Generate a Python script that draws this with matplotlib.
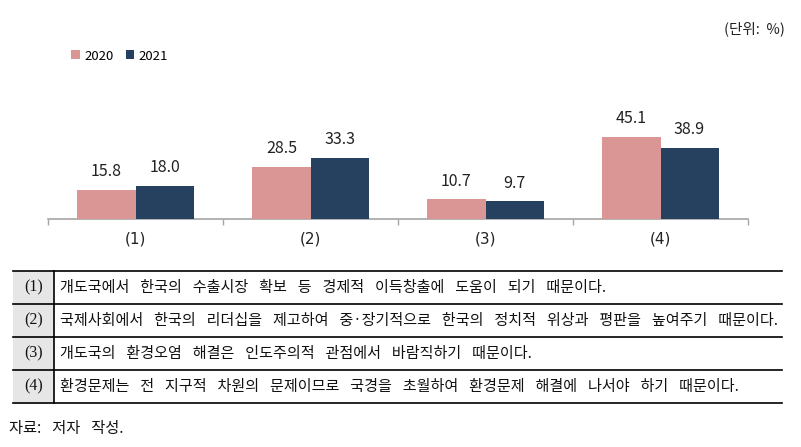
import matplotlib
matplotlib.use("Agg")
import matplotlib.pyplot as plt
import numpy as np

plt.rcParams['font.family'] = ['Noto Sans CJK KR', 'DejaVu Sans']

categories = ['(1)', '(2)', '(3)', '(4)']
series_names = ['2020', '2021']
values_2020 = [15.8, 28.5, 10.7, 45.1]
values_2021 = [18.0, 33.3, 9.7, 38.9]
unit_label = '(단위:  %)'
row_labels = ['(1)', '(2)', '(3)', '(4)']
row_texts = [
    '개도국에서 한국의 수출시장 확보 등 경제적 이득창출에 도움이 되기 때문이다.',
    '국제사회에서 한국의 리더십을 제고하여 중·장기적으로 한국의 정치적 위상과 평판을 높여주기 때문이다.',
    '개도국의 환경오염 해결은 인도주의적 관점에서 바람직하기 때문이다.',
    '환경문제는 전 지구적 차원의 문제이므로 국경을 초월하여 환경문제 해결에 나서야 하기 때문이다.',
]
source_text = '자료: 저자 작성.'


def wide(s):
    # wider word spacing, as in the typeset original
    return s.replace(' ', ' \u2002')


W, H = 801, 447
fig = plt.figure(figsize=(W / 100, H / 100), dpi=100)

c2020 = '#D99694'
c2021 = '#264060'

# chart axes
ax = fig.add_axes([48 / W, 1 - 219 / H, 700 / W, 179 / H])
x = np.arange(len(categories))
bw = 0.332
b1 = ax.bar(x - bw / 2, values_2020, bw, color=c2020, label=series_names[0], zorder=3)
b2 = ax.bar(x + bw / 2, values_2021, bw, color=c2021, label=series_names[1], zorder=3)
for bars, vals in ((b1, values_2020), (b2, values_2021)):
    for r, v in zip(bars, vals):
        ax.annotate(f'{v:.1f}', (r.get_x() + r.get_width() / 2, r.get_height()),
                    xytext=(0, 7), textcoords='offset points', ha='center', va='bottom',
                    fontsize=11.5, color='#222222')
ax.set_xlim(-0.5, len(categories) - 0.5)
ax.set_ylim(0, 98)
for s in ('top', 'right', 'left'):
    ax.spines[s].set_visible(False)
ax.spines['bottom'].set_color('#a6a6a6')
ax.spines['bottom'].set_linewidth(1.2)
ax.set_yticks([])
ax.set_xticks(np.arange(-0.5, len(categories)), labels=[''] * (len(categories) + 1))
ax.tick_params(axis='x', which='major', length=4, color='#a6a6a6', width=1)
ax.set_xticks(x, labels=categories, minor=True)
ax.tick_params(axis='x', which='minor', length=0, pad=9, labelsize=11, labelcolor='#222222')
for lbl in ax.get_xticklabels(minor=True):
    lbl.set_fontfamily(['DejaVu Sans'])

leg = fig.legend(handles=[b1, b2], loc='center left', bbox_to_anchor=(66 / W, 1 - 56 / H),
                 ncol=2, frameon=False, fontsize=9.5, handlelength=0.65, handleheight=0.65,
                 handletextpad=0.35, columnspacing=0.9, borderaxespad=0)

fig.text(785 / W, 1 - 29 / H, unit_label, ha='right', va='center', fontsize=10.5, color='#222222')

# table overlay
ov = fig.add_axes([0, 0, 1, 1], zorder=-1)
ov.set_xlim(0, W)
ov.set_ylim(H, 0)
ov.axis('off')
ys = [271, 304, 337, 370, 403]
xl, xm, xr = 13, 54, 782
ov.add_patch(plt.Rectangle((xl, ys[0]), xm - xl, ys[-1] - ys[0], color='#e6e6e6', lw=0))
for yy in ys:
    ov.plot([xl, xr], [yy, yy], color='black', lw=1.2)
ov.plot([xm, xm], [ys[0], ys[-1]], color='black', lw=1.2)
for i in range(len(row_labels)):
    yc = (ys[i] + ys[i + 1]) / 2
    ov.text((xl + xm) / 2, yc, row_labels[i], ha='center', va='center', fontsize=11.5,
            family=['Liberation Serif'], color='#111111')
    ov.text(60, yc, wide(row_texts[i]), ha='left', va='center', fontsize=10.85, color='#111111')
ov.text(9, 428, wide(source_text), ha='left', va='center', fontsize=11, color='#111111')

fig.savefig('out.png', dpi=100)
